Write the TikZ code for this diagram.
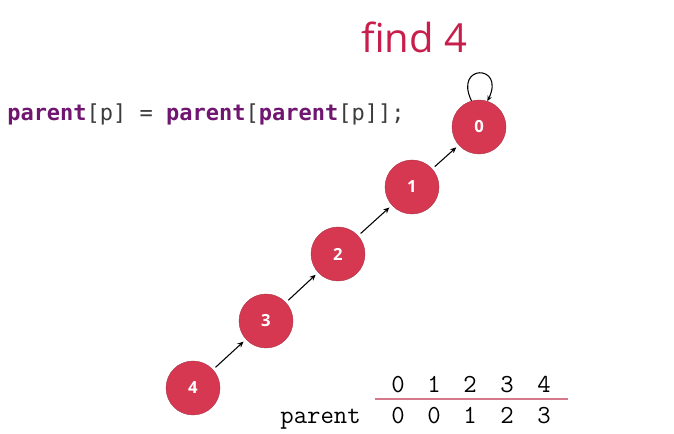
\documentclass[tikz,border=0pt]{standalone}
\usepackage{fontspec}
\usetikzlibrary{arrows.meta}
\newfontfamily\titlefont{Open Sans}
\newfontfamily\labelfont{Open Sans}
\newfontfamily\codefont{DejaVu Sans Mono}
\definecolor{nodered}{RGB}{214,56,82}
\definecolor{titlered}{RGB}{200,30,75}
\definecolor{codepurple}{RGB}{112,22,112}
\definecolor{codegray}{RGB}{60,60,60}
\definecolor{rulepink}{RGB}{214,120,140}
\tikzset{
  unode/.style={circle, fill=nodered, draw=nodered!80!black, line width=0.3pt, minimum size=40.5pt, inner sep=0pt, text=white, font=\labelfont\bfseries\fontsize{12.5}{14}\selectfont},
  linkopen/.style={-{Stealth[open,length=4.5pt,width=4pt]}, line width=0.8pt, shorten <=2.5pt, shorten >=2.5pt},
  linkfill/.style={-{Stealth[length=4.5pt,width=4pt]}, line width=0.8pt, shorten <=2.5pt, shorten >=2.5pt},
  tabtext/.style={font=\ttfamily\fontsize{19.5}{22}\selectfont, inner sep=0pt, anchor=base},
}
\begin{document}
\begin{tikzpicture}[x=0.75pt,y=-0.75pt]
\useasboundingbox (0,0) rectangle (674,434);
% title
\node[anchor=base, text=titlered, font=\titlefont\fontsize{30}{34}\selectfont, inner sep=0pt] (title) at (414,53) {find 4};
% code line
\node[anchor=base west, inner sep=0pt, text=codegray, font=\codefont\fontsize{16.5}{20}\selectfont] (code) at (7,121)
  {{\bfseries\color{codepurple}parent}[p] = {\bfseries\color{codepurple}parent}[{\bfseries\color{codepurple}parent}[p]];};
% nodes
\node[unode] (n0) at (479,127) {0};
\node[unode] (n1) at (412,187) {1};
\node[unode] (n2) at (338,254) {2};
\node[unode] (n3) at (266,321) {3};
\node[unode] (n4) at (193,388) {4};
% links
\draw[linkopen] (n4) -- (n3);
\draw[linkfill] (n3) -- (n2);
\draw[linkfill] (n2) -- (n1);
\draw[linkopen] (n1) -- (n0);
\draw[-{Stealth[open,length=4pt,width=3.5pt]}, line width=0.8pt] (n0.106) .. controls +(116:31pt) and +(64:31pt) .. (n0.72);
% table
\node[tabtext] (h0) at (398,392) {0};
\node[tabtext] (h1) at (434,392) {1};
\node[tabtext] (h2) at (470,392) {2};
\node[tabtext] (h3) at (507,392) {3};
\node[tabtext] (h4) at (544,392) {4};
\coordinate (ruleL) at (375,399);
\coordinate (ruleR) at (568,399);
\draw[rulepink, line width=1.2pt] (ruleL) -- (ruleR);
\node[tabtext, anchor=base east] (plabel) at (361,423) {parent};
\node[tabtext] (v0) at (398,423) {0};
\node[tabtext] (v1) at (434,423) {0};
\node[tabtext] (v2) at (470,423) {1};
\node[tabtext] (v3) at (507,423) {2};
\node[tabtext] (v4) at (544,423) {3};
\end{tikzpicture}
\end{document}
